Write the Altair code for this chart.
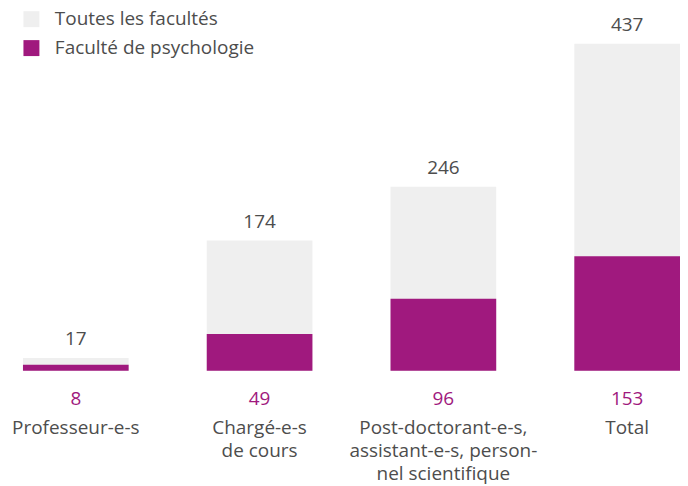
import altair as alt
import pandas as pd

categories = ["Professeur-e-s", "Chargé-e-s\nde cours",
              "Post-doctorant-e-s,\nassistant-e-s, person-\nnel scientifique", "Total"]
series_names = ["Toutes les facultés", "Faculté de psychologie"]
toutes = [17, 174, 246, 437]
psy = [8, 49, 96, 153]

GREY = "#efefef"
PURPLE = "#a0197e"
TEXT = "#4d4d4d"
FONT = "Open Sans"
FS = 19

rows = []
for c, v in zip(categories, toutes):
    rows.append({"cat": c, "series": series_names[0], "value": v, "ord": 0})
for c, v in zip(categories, psy):
    rows.append({"cat": c, "series": series_names[1], "value": v, "ord": 1})
df = pd.DataFrame(rows)
df_lab = pd.DataFrame({"cat": categories, "toutes": toutes, "psy": psy})

xs = alt.X("cat:N", sort=categories, axis=None,
           scale=alt.Scale(paddingInner=0.425, paddingOuter=0.0407, align=1))
yscale = alt.Scale(domain=[0, 484])

bars = alt.Chart(df).mark_bar().encode(
    x=xs,
    y=alt.Y("value:Q", stack=None, scale=yscale, axis=None),
    color=alt.Color("series:N", scale=alt.Scale(domain=series_names, range=[GREY, PURPLE]),
                    legend=alt.Legend(orient="none", legendX=14, legendY=1, title=None,
                                      symbolType="square", symbolSize=256,
                                      symbolStrokeWidth=0, symbolOpacity=1,
                                      labelFontSize=FS, labelFont=FONT, labelColor=TEXT,
                                      labelLimit=400,
                                      labelOffset=14, rowPadding=9, padding=0)),
    order=alt.Order("ord:Q"),
)

top_labels = alt.Chart(df_lab).mark_text(
    dy=-13, baseline="alphabetic", fontSize=FS, font=FONT, color=TEXT
).encode(x=xs, y=alt.Y("toutes:Q", scale=yscale, axis=None), text="toutes:Q")

psy_labels = alt.Chart(df_lab).mark_text(
    dy=34, baseline="alphabetic", fontSize=FS, font=FONT, color=PURPLE
).encode(x=xs, y=alt.datum(0, scale=yscale), text="psy:Q")

cat_labels = alt.Chart(df_lab).mark_text(
    dy=64, baseline="alphabetic", fontSize=FS, font=FONT, color=TEXT,
    lineBreak="\n", lineHeight=23
).encode(x=xs, y=alt.datum(0, scale=yscale), text="cat:N")

chart = alt.layer(bars, top_labels, psy_labels, cat_labels).properties(
    width=674, height=363,
    autosize=alt.AutoSizeParams(type="none"),
    padding={"left": 0, "top": 0, "right": 0, "bottom": 118},
).configure_view(stroke=None)

chart.save("out.html", embed_options={"renderer": "svg", "actions": False})
